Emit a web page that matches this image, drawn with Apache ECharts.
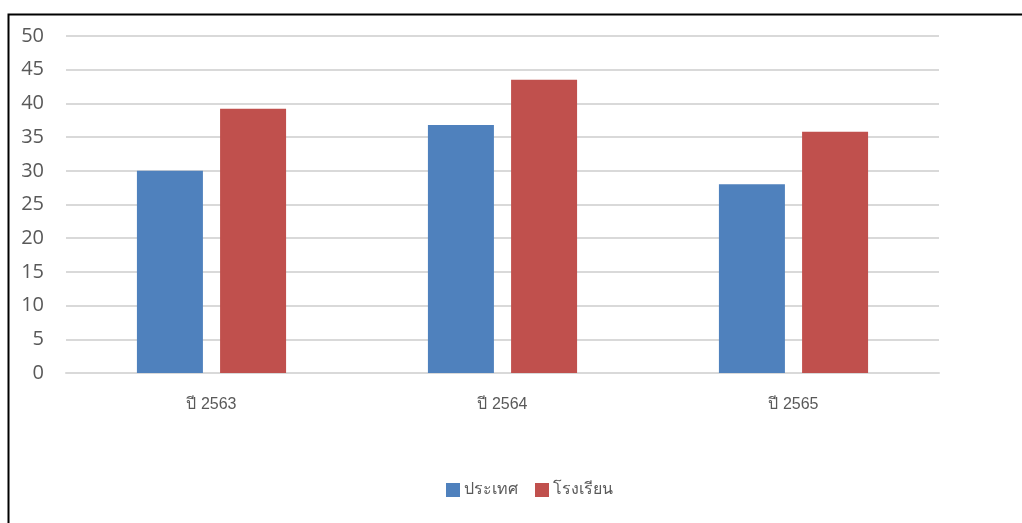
<!DOCTYPE html>
<html><head><meta charset="utf-8">
<script src="https://cdn.jsdelivr.net/npm/echarts@6/dist/echarts.min.js"></script>
<style>html,body{margin:0;padding:0;background:#fff}#c{width:1022px;height:523px}</style>
</head><body><div id="c"></div>
<script>
const categories = ['ปี 2563', 'ปี 2564', 'ปี 2565'];
const seriesNames = ['ประเทศ', 'โรงเรียน'];
const countryValues = [30.0, 36.8, 28.0];
const schoolValues = [39.2, 43.5, 35.8];
const yTicks = [0, 5, 10, 15, 20, 25, 30, 35, 40, 45, 50];

const chart = echarts.init(document.getElementById('c'), null, {renderer: 'canvas'});
chart.setOption({
  animation: false,
  backgroundColor: '#fff',
  grid: {left: 66, right: 83, top: 36, bottom: 150, containLabel: false},
  legend: {
    top: 482, left: 446,
    itemWidth: 14, itemHeight: 14, itemGap: 17,
    icon: 'rect', padding: 0,
    textStyle: {fontSize: 16, color: '#595959', fontFamily: 'sans-serif', padding: [0, 0, 0, -1]},
    data: seriesNames
  },
  xAxis: {
    type: 'category', data: categories,
    axisLine: {lineStyle: {color: '#d9d9d9', width: 2}},
    axisTick: {show: false},
    axisLabel: {color: '#595959', fontSize: 16, margin: 24, fontFamily: 'sans-serif'}
  },
  yAxis: {
    type: 'value', min: yTicks[0], max: yTicks[yTicks.length - 1], interval: 5,
    axisLine: {show: false}, axisTick: {show: false},
    axisLabel: {color: '#595959', fontSize: 20, margin: 22, fontFamily: '"Open Sans", sans-serif'},
    splitLine: {lineStyle: {color: '#d9d9d9', width: 2}}
  },
  series: [
    {name: seriesNames[0], type: 'bar', data: countryValues, barWidth: 66, barGap: '26%',
     itemStyle: {color: '#4f81bd'}},
    {name: seriesNames[1], type: 'bar', data: schoolValues, barWidth: 66,
     itemStyle: {color: '#c0504d'}}
  ],
  graphic: [{
    type: 'rect', shape: {x: 8.5, y: 14.5, width: 1030, height: 530},
    style: {fill: 'none', stroke: '#000', lineWidth: 2}, silent: true, z: 100
  }]
});
</script></body></html>
